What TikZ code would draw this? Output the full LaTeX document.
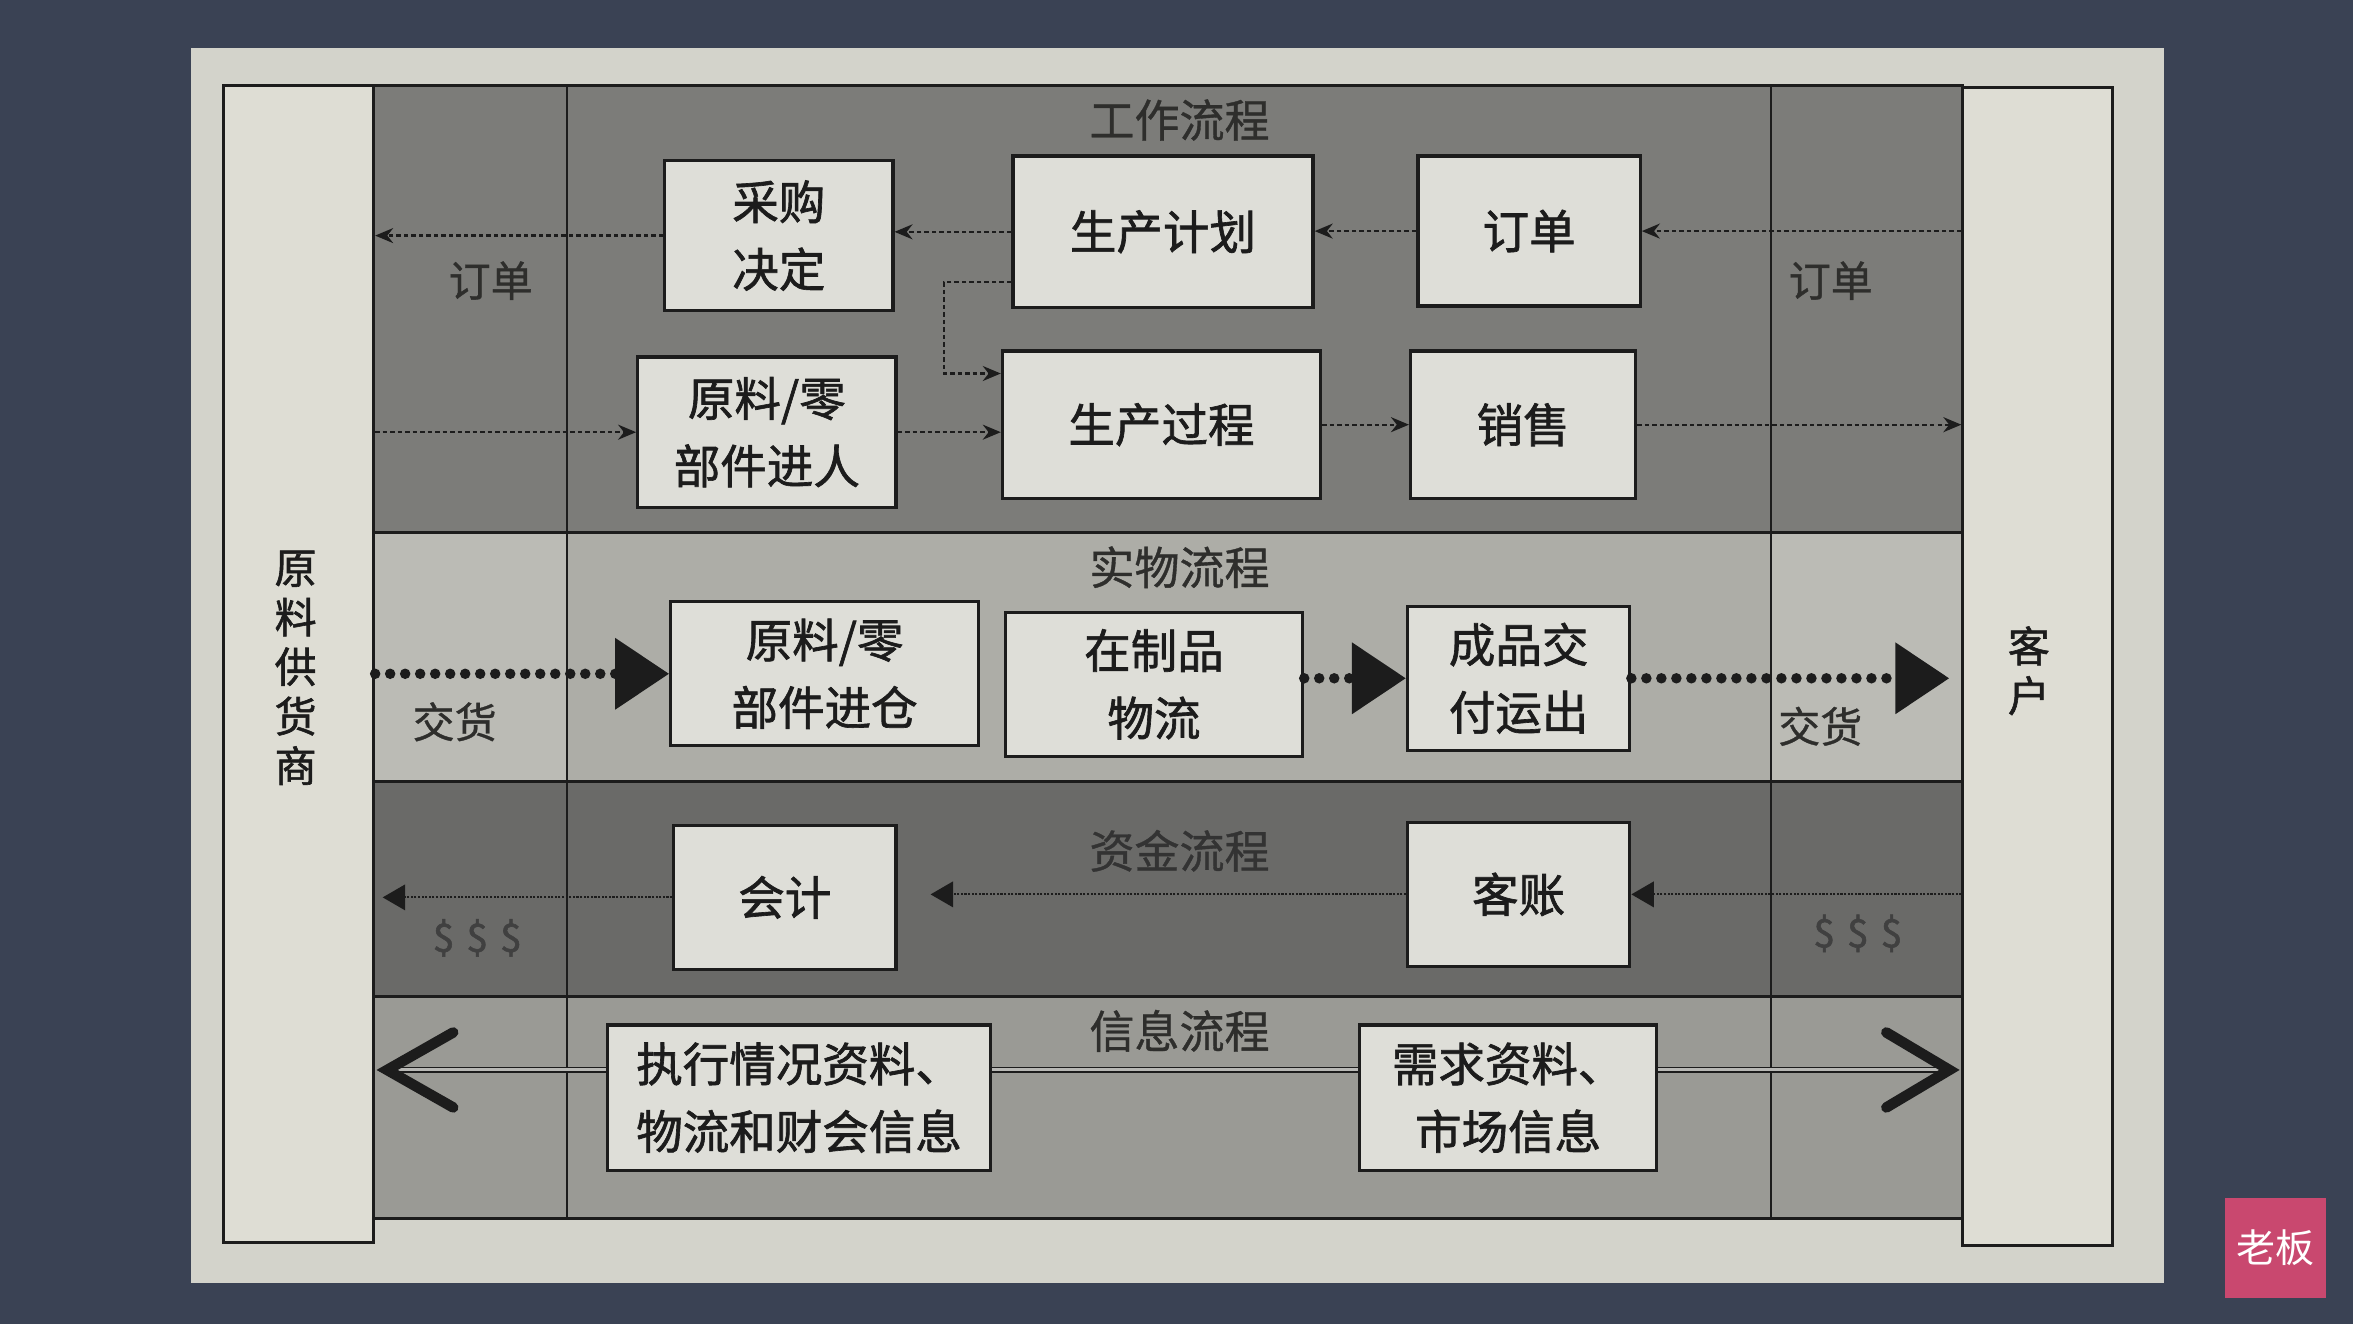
\documentclass[tikz,border=0pt]{standalone}
\usepackage{fontspec}
\setmainfont{Noto Sans CJK SC}
\newfontfamily\cjkbold{Noto Sans CJK SC}[FakeBold=1.4]
\newfontfamily\cjkmid{Noto Sans CJK SC}[FakeBold=0.8]
\usetikzlibrary{arrows.meta,calc}
\definecolor{bgslate}{HTML}{3A4254}
\definecolor{paper}{HTML}{D3D3CB}
\definecolor{sidebox}{HTML}{DEDDD4}
\definecolor{workband}{HTML}{7C7C79}
\definecolor{physband}{HTML}{ADADA7}
\definecolor{physside}{HTML}{BBBBB5}
\definecolor{fundband}{HTML}{6A6A68}
\definecolor{infoband}{HTML}{9A9A95}
\definecolor{boxfill}{HTML}{DEDED8}
\definecolor{ink}{HTML}{1C1C1C}
\definecolor{titleink}{HTML}{2E2E2C}
\definecolor{pinkmark}{HTML}{C9486F}
\begin{document}
\begin{tikzpicture}[x=1pt,y=-1pt,
  proc/.style={draw=ink,line width=2.2pt,fill=boxfill,inner sep=0pt,align=center,text=ink,font=\cjkbold\fontsize{31}{45}\selectfont},
  party/.style={draw=ink,line width=2pt,fill=sidebox,inner sep=0pt,align=center,text=ink,font=\cjkbold\fontsize{28}{33}\selectfont},
  partytext/.style={draw=none,fill=none,inner sep=0pt,align=center,text=ink,font=\cjkbold\fontsize{28}{33}\selectfont},
  bandtitle/.style={text=titleink,font=\cjkmid\fontsize{30}{30}\selectfont,inner sep=0pt},
  lab/.style={text=titleink,font=\cjkmid\fontsize{28}{28}\selectfont,inner sep=0pt},
  bandline/.style={draw=ink,line width=2pt},
  colline/.style={draw=ink,line width=1.5pt},
  flow/.style={draw=ink,line width=1.5pt,densely dashed,-{Stealth[length=12pt,width=10pt]}},
  bigdots/.style={draw=ink,line width=7pt,dash pattern=on 0pt off 10pt,line cap=round,-{Triangle[length=36pt,width=46pt]}},
  smalltri/.style={draw=none,-{Triangle[length=17pt,width=22pt,fill=ink]}},
  fundflow/.style={draw=ink,line width=1.4pt,densely dotted,-{Triangle[length=15pt,width=17pt]}},
  infoline/.style={draw=ink,line width=1.3pt,double=infoband!70,double distance=2pt},
  chev/.style={draw=ink,line width=7pt,line cap=round,line join=miter}]
\useasboundingbox (0,0) rectangle (1568,882);
\fill[bgslate] (0,0) rectangle (1568,882);
\fill[paper] (127,32) rectangle (1442,855);
% bands
\fill[workband] (249,57) rectangle (1308,355);
\fill[physband] (249,355) rectangle (1308,521);
\fill[physside] (249,355) rectangle (378,521);
\fill[physside] (1180,355) rectangle (1308,521);
\fill[fundband] (249,521) rectangle (1308,664);
\fill[infoband] (249,664) rectangle (1308,812);
\draw[bandline] (249,57) rectangle (1308,812);
\draw[bandline] (249,355) -- (1308,355);
\draw[bandline] (249,521) -- (1308,521);
\draw[bandline] (249,664) -- (1308,664);
\draw[colline] (378,57) -- (378,812);
\draw[colline] (1180,57) -- (1180,812);
% parties
\node[party,minimum width=100pt,minimum height=771pt] (sup) at (199,442.5) {};
\node[partytext] (suptext) at (197,445) {原\\料\\供\\货\\商};
\node[party,minimum width=100pt,minimum height=772pt] (cus) at (1358,444) {};
\node[partytext] (custext) at (1352,447) {客\\户};
% titles
\node[bandtitle] (t1) at (786,80) {工作流程};
\node[bandtitle] (t2) at (786,378) {实物流程};
\node[bandtitle,text=black!80] (t3) at (786,567) {资金流程};
\node[bandtitle] (t4) at (786,687) {信息流程};
% work flow boxes
\node[proc,minimum width=152pt,minimum height=100pt] (cg) at (519,157) {采购\\决定};
\node[proc,minimum width=200pt,minimum height=101pt] (jh) at (775,154.5) {生产计划};
\node[proc,minimum width=148pt,minimum height=100pt] (dd) at (1019,154) {订单};
\node[proc,minimum width=172pt,minimum height=100pt] (yl) at (511,288) {原料/零\\部件进人};
\node[proc,minimum width=212pt,minimum height=98pt] (sc) at (774,283) {生产过程};
\node[proc,minimum width=150pt,minimum height=98pt] (xs) at (1015,283) {销售};
% physical flow boxes
\node[proc,minimum width=205pt,minimum height=96pt] (jc) at (549.5,449) {原料/零\\部件进仓};
\node[proc,minimum width=198pt,minimum height=96pt] (zz) at (769,456) {在制品\\物流};
\node[proc,minimum width=148pt,minimum height=96pt] (cp) at (1012,452) {成品交\\付运出};
% fund flow boxes
\node[proc,minimum width=148pt,minimum height=96pt] (kj) at (523,598) {会计};
\node[proc,minimum width=148pt,minimum height=96pt] (kz) at (1012,596) {客账};
% info flow boxes
\node[proc,minimum width=255pt,minimum height=97pt] (zx) at (532.5,731.5) {执行情况资料、\\物流和财会信息};
\node[proc,minimum width=198pt,minimum height=97pt] (xq) at (1005,731.5) {需求资料、\\市场信息};
% labels
\node[lab] (l1) at (327,187) {订单};
\node[lab] (l2) at (1220,187) {订单};
\node[lab] (l3) at (303,481) {交货};
\node[lab] (l4) at (1213,484) {交货};
\node[lab,font=\cjkbold\fontsize{26}{26}\selectfont,text=black!75] (l5) at (318,625) {\$\hspace{8pt}\$\hspace{8pt}\$};
\node[lab,font=\cjkbold\fontsize{26}{26}\selectfont,text=black!75] (l6) at (1238,622) {\$\hspace{8pt}\$\hspace{8pt}\$};
% work flow connectors
\draw[flow] (cus.west |- dd.east) -- (dd.east);
\draw[flow] (dd.west) -- (dd.west -| jh.east);
\draw[flow] (jh.west) -- (jh.west -| cg.east);
\draw[flow] (cg.west) -- (cg.west -| sup.east);
\draw[flow] (sup.east |- yl.west) -- (yl.west);
\draw[flow] (yl.east) -- (yl.east -| sc.west);
\draw[flow] ([yshift=18pt]jh.south west) -- ++(-45,0) |- ([yshift=-16pt]sc.north west);
\draw[flow] (sc.east) -- (sc.east -| xs.west);
\draw[flow] (xs.east) -- (xs.east -| cus.west);
% physical flow connectors
\draw[bigdots] (sup.east |- jc.west) -- (jc.west);
\draw[smalltri] (jc.east) -- (jc.east -| zz.west);
\draw[bigdots] (cp.west -| zz.east) -- (cp.west);
\draw[bigdots,shorten >=8pt] (cp.east) -- (cp.east -| cus.west);
% fund flow connectors
\draw[fundflow] (cus.west |- kz.east) -- (kz.east);
\draw[fundflow,shorten >=22pt] (kz.west) -- (kz.west -| kj.east);
\draw[fundflow,shorten >=5pt] (kj.west) -- (kj.west -| sup.east);
% info flow connectors
\coordinate (lt) at ([yshift=18.5pt,xshift=8pt]zx.west -| sup.east);
\coordinate (rt) at ([yshift=18.5pt,xshift=-8pt]xq.east -| cus.west);
\draw[infoline] ([yshift=18.5pt]zx.east) -- ([yshift=18.5pt]xq.west);
\draw[infoline] ([yshift=18.5pt]zx.west) -- (lt);
\draw[infoline] ([yshift=18.5pt]xq.east) -- (rt);
\draw[chev] ([xshift=44pt,yshift=25pt]lt) -- (lt) -- ([xshift=44pt,yshift=-25pt]lt);
\draw[chev] ([xshift=-42pt,yshift=25pt]rt) -- (rt) -- ([xshift=-42pt,yshift=-25pt]rt);
% watermark
\node[fill=pinkmark,minimum width=67pt,minimum height=67pt,inner sep=0pt,text=white,font=\fontsize{26}{26}\selectfont] (wm) at (1516.5,831.5) {老板};
\end{tikzpicture}
\end{document}
